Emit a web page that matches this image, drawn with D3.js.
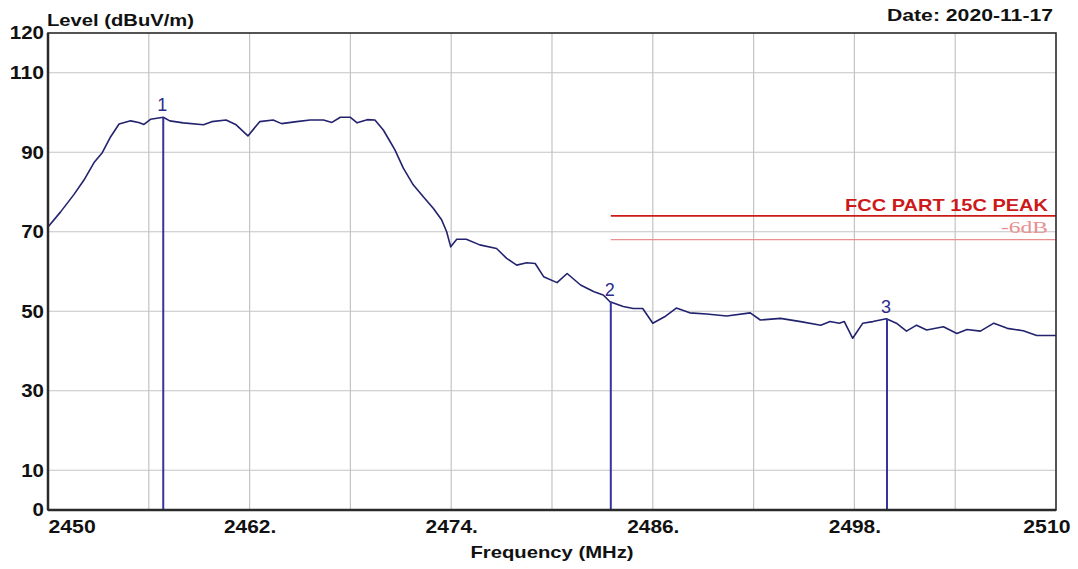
<!DOCTYPE html>
<html>
<head>
<meta charset="utf-8">
<script src="https://cdn.jsdelivr.net/npm/d3@7"></script>
<style>
  html, body { margin: 0; padding: 0; background: #ffffff; }
  svg { display: block; font-family: "Liberation Sans", Arial, sans-serif; }
</style>
</head>
<body>
<svg id="chart" width="1078" height="569"></svg>
<script>
// ---- data ----
const freqMHz = [2450.0, 2450.75, 2451.55, 2452.14, 2452.74, 2453.23, 2453.73, 2454.23, 2454.92, 2455.4,
  2455.71, 2456.1, 2456.86, 2457.25, 2458.05, 2459.25, 2459.75, 2460.6, 2461.2, 2461.9,
  2462.6, 2463.4, 2463.9, 2464.8, 2465.6, 2466.4, 2466.9, 2467.4, 2468.0, 2468.4,
  2469.0, 2469.46, 2469.96, 2470.36, 2470.65, 2471.15, 2471.74, 2472.34, 2472.93, 2473.43,
  2473.73, 2473.97, 2474.33, 2474.9, 2475.7, 2476.7, 2477.3, 2477.9, 2478.5, 2479.0,
  2479.5, 2480.3, 2480.9, 2481.7, 2482.5, 2483.05, 2483.45, 2484.24, 2484.84, 2485.4,
  2486.0, 2486.7, 2487.4, 2488.2, 2489.2, 2490.4, 2491.8, 2492.4, 2493.6, 2494.8,
  2496.0, 2496.55, 2497.1, 2497.4, 2497.9, 2498.5, 2499.1, 2499.9, 2500.5, 2501.1,
  2501.7, 2502.3, 2503.3, 2504.1, 2504.7, 2505.5, 2506.3, 2507.1, 2508.05, 2508.85, 2510.0];
const levelDbuV = [71.2, 75.0, 79.4, 83.0, 87.4, 89.9, 93.9, 97.1, 97.9, 97.5,
  97.0, 98.3, 98.8, 97.9, 97.4, 96.9, 97.7, 98.1, 96.9, 94.1,
  97.7, 98.1, 97.2, 97.7, 98.1, 98.1, 97.5, 98.8, 98.8, 97.4,
  98.2, 98.1, 95.6, 92.7, 90.6, 86.0, 81.8, 78.8, 75.9, 73.0,
  70.0, 66.2, 68.1, 68.1, 66.7, 65.8, 63.3, 61.6, 62.2, 62.0,
  58.7, 57.2, 59.5, 56.6, 54.9, 54.1, 52.4, 51.2, 50.7, 50.7,
  47.0, 48.6, 50.8, 49.6, 49.3, 48.8, 49.6, 47.8, 48.2, 47.4,
  46.5, 47.4, 47.0, 47.4, 43.2, 47.0, 47.4, 48.1, 47.0, 45.0,
  46.5, 45.3, 46.1, 44.4, 45.4, 45.0, 47.0, 45.7, 45.1, 43.9, 43.9];

const markerIds = ["1", "2", "3"];
const markerFreq = [2456.86, 2483.5, 2499.94];
const markerLevel = [98.8, 52.4, 48.1];

const limitNames = ["FCC PART 15C PEAK", "-6dB"];
const limitLevels = [74, 68];
const limitStart = 2483.5;

const yTickValues = [0, 10, 30, 50, 70, 90, 110, 120];
const yGridValues = [10, 30, 50, 70, 90, 110];
const xTickValues = [2450, 2462, 2474, 2486, 2498, 2510];
const xTickLabels = ["2450", "2462.", "2474.", "2486.", "2498.", "2510"];
const xGridValues = [2456, 2462, 2468, 2474, 2480, 2486, 2492, 2498, 2504];

const yTitle = "Level (dBuV/m)";
const xTitle = "Frequency (MHz)";
const dateText = "Date: 2020-11-17";

// ---- layout ----
const L = 48, R = 1056, T = 33, B = 510;
const svg = d3.select("#chart");
const x = d3.scaleLinear().domain([2450, 2510]).range([L, R]);
const y = d3.scaleLinear().domain([0, 120]).range([B, T]);

// grid
svg.append("g").selectAll("line").data(yGridValues).join("line")
  .attr("x1", L).attr("x2", R).attr("y1", d => y(d)).attr("y2", d => y(d))
  .attr("stroke", "#c4c4c4").attr("stroke-width", 1.2);
svg.append("g").selectAll("line").data(xGridValues).join("line")
  .attr("y1", T).attr("y2", B).attr("x1", d => x(d)).attr("x2", d => x(d))
  .attr("stroke", "#c4c4c4").attr("stroke-width", 1.2);

// limit lines
const limitColors = ["#cc1a1a", "#e89090"];
limitLevels.forEach((lv, i) => {
  svg.append("line")
    .attr("x1", x(limitStart)).attr("x2", R)
    .attr("y1", y(lv)).attr("y2", y(lv))
    .attr("stroke", limitColors[i]).attr("stroke-width", i === 0 ? 1.6 : 1.3);
});
svg.append("text").text(limitNames[0])
  .attr("x", 1048).attr("y", y(limitLevels[0]) - 5)
  .attr("text-anchor", "end").attr("font-weight", "bold").attr("font-size", 17)
  .attr("fill", "#cc1a1a").attr("textLength", 203).attr("lengthAdjust", "spacingAndGlyphs");
svg.append("text").text(limitNames[1])
  .attr("x", 1048).attr("y", y(limitLevels[1]) - 7)
  .attr("text-anchor", "end").attr("font-size", 17)
  .attr("font-family", "'Liberation Serif', serif")
  .attr("fill", "#e89090").attr("textLength", 47).attr("lengthAdjust", "spacingAndGlyphs");

// curve
const pts = freqMHz.map((f, i) => [f, levelDbuV[i]]);
svg.append("path").datum(pts)
  .attr("fill", "none").attr("stroke", "#22226e").attr("stroke-width", 1.6)
  .attr("stroke-linejoin", "round")
  .attr("d", d3.line().x(d => x(d[0])).y(d => y(d[1])));

// markers
markerIds.forEach((id, i) => {
  svg.append("line")
    .attr("x1", x(markerFreq[i])).attr("x2", x(markerFreq[i]))
    .attr("y1", y(markerLevel[i])).attr("y2", B)
    .attr("stroke", "#34349a").attr("stroke-width", 2);
  svg.append("text").text(id)
    .attr("x", x(markerFreq[i]) - 1).attr("y", y(markerLevel[i]) - 6)
    .attr("text-anchor", "middle").attr("font-size", 18)
    .attr("fill", "#2c2c8a");
});

// axes
const yAxis = svg.append("g").attr("transform", `translate(${L},0)`)
  .call(d3.axisLeft(y).tickValues(yTickValues).tickSize(0).tickPadding(4).tickFormat(d3.format("d")));
yAxis.select(".domain").remove();
yAxis.selectAll("text")
  .attr("font-family", "'Liberation Sans', Arial, sans-serif")
  .attr("font-weight", "bold").attr("font-size", 18).attr("fill", "#111")
  .attr("textLength", d => String(d).length * 11.4).attr("lengthAdjust", "spacingAndGlyphs");

const xAxis = svg.append("g").attr("transform", `translate(0,${B})`)
  .call(d3.axisBottom(x).tickValues(xTickValues).tickSize(0)
    .tickFormat((d, i) => xTickLabels[i]));
xAxis.select(".domain").remove();
xAxis.selectAll("text")
  .attr("font-family", "'Liberation Sans', Arial, sans-serif")
  .attr("font-weight", "bold").attr("font-size", 19).attr("fill", "#111")
  .attr("y", 23).attr("dy", 0)
  .attr("textLength", (d, i) => xTickLabels[i].replace(".", "").length * 11.8 + (xTickLabels[i].includes(".") ? 5 : 0))
  .attr("lengthAdjust", "spacingAndGlyphs")
  .attr("text-anchor", (d, i) => i === 0 ? "start" : (i === xTickValues.length - 1 ? "end" : "middle"))
  .attr("x", (d, i) => i === 0 ? 0 : (i === xTickValues.length - 1 ? 14 : 0));

// frame
svg.append("rect").attr("x", L).attr("y", T).attr("width", R - L).attr("height", B - T)
  .attr("fill", "none").attr("stroke", "#2a2a2a").attr("stroke-width", 1.6);
svg.append("line").attr("x1", L).attr("x2", L).attr("y1", T).attr("y2", B)
  .attr("stroke", "#2a2a2a").attr("stroke-width", 2.5);
svg.append("line").attr("x1", L).attr("x2", R).attr("y1", B).attr("y2", B)
  .attr("stroke", "#2a2a2a").attr("stroke-width", 2.5);

// titles
svg.append("text").text(yTitle)
  .attr("x", 47).attr("y", 26).attr("font-weight", "bold").attr("font-size", 16)
  .attr("fill", "#111").attr("textLength", 147).attr("lengthAdjust", "spacingAndGlyphs");
svg.append("text").text(dateText)
  .attr("x", 1053).attr("y", 21).attr("text-anchor", "end").attr("font-weight", "bold").attr("font-size", 16)
  .attr("fill", "#111").attr("textLength", 166).attr("lengthAdjust", "spacingAndGlyphs");
svg.append("text").text(xTitle)
  .attr("x", 552).attr("y", 558).attr("text-anchor", "middle").attr("font-weight", "bold").attr("font-size", 17)
  .attr("fill", "#111").attr("textLength", 163).attr("lengthAdjust", "spacingAndGlyphs");
</script>
</body>
</html>
